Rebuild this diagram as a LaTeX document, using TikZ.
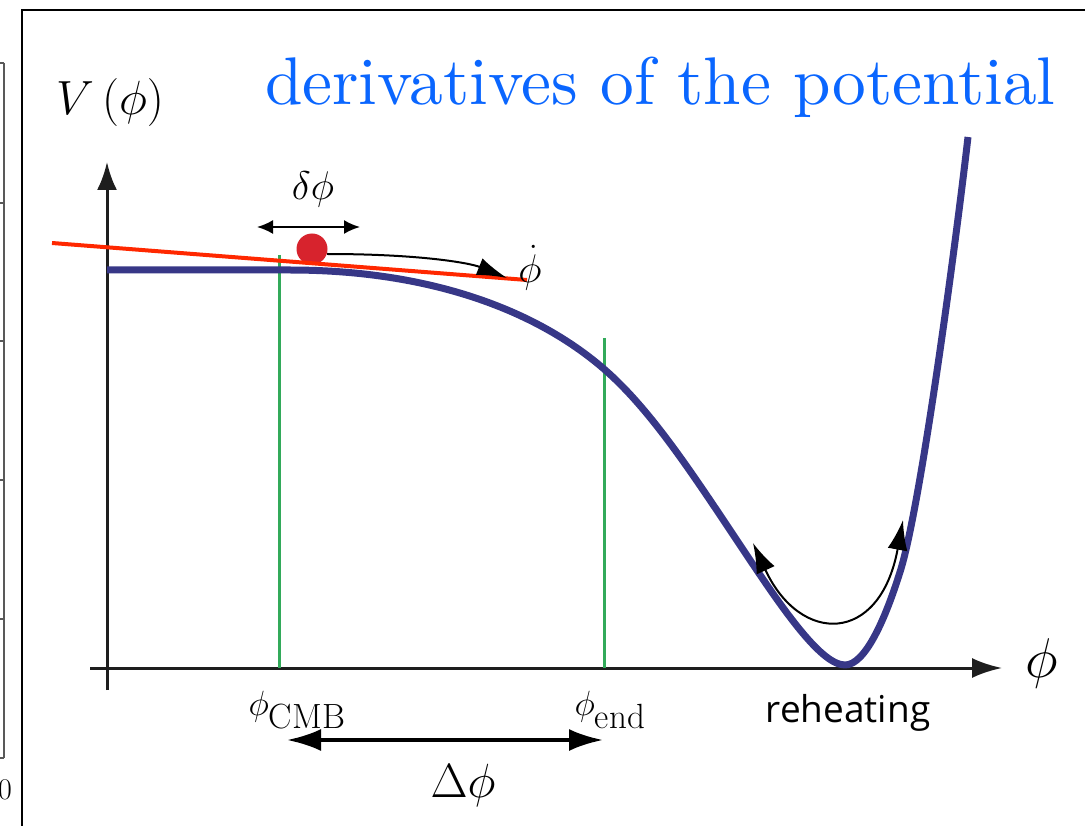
\RequirePackage{fix-cm}
\documentclass[tikz,border=0pt]{standalone}
\usepackage{fontspec}
\usepackage{graphicx}
\newfontfamily\sansf{Open Sans}
\usetikzlibrary{arrows.meta}
\definecolor{titleblue}{RGB}{10,102,255}
\definecolor{potblue}{RGB}{55,55,135}
\definecolor{lgreen}{RGB}{50,170,90}
\definecolor{redline}{RGB}{255,40,0}
\definecolor{dotred}{RGB}{215,35,45}
\definecolor{axisgray}{RGB}{30,30,30}
\begin{document}
\begin{tikzpicture}[x=1pt,y=-1pt,
  axis/.style={draw=axisgray,line width=3pt},
  potential/.style={draw=potblue,line width=7pt},
  marker/.style={draw=lgreen,line width=3pt},
  thinarrow/.style={draw=black,line width=2pt},
  lbl/.style={inner sep=0pt,text=black}]
\useasboundingbox (0,0) rectangle (1085,826);
% frame
\draw[line width=2.5pt] (22,1000) -- (22,10) -- (1200,10);
% partial neighbouring plot on the left
\draw[gray!70!black,line width=1.5pt] (4,63) -- (4,758);
\foreach \yy in {63,203,341,480,619,758} \draw[gray!70!black,line width=1.5pt] (0,\yy) -- (4,\yy);
\node[lbl,anchor=east] (zero) at (12,790) {\fontsize{30}{30}\selectfont 0};
% title
\node[lbl,text=titleblue,anchor=base west] (title) at (265,105) {\resizebox{790pt}{!}{derivatives of the potential}};
% axes
\coordinate (yb) at (107,690);
\coordinate (yt) at (107,162);
\coordinate (xl) at (90,668);
\coordinate (xr) at (1002,668);
\draw[axis,-{Latex[length=28pt,width=20pt]}] (yb) -- (yt);
\draw[axis,-{Latex[length=30pt,width=20pt]}] (xl) -- (xr);
\node[lbl] (V) at (110,103) {\fontsize{48}{48}\selectfont $V\,(\phi)$};
\node[lbl] (phiax) at (1042,663) {\fontsize{56}{56}\selectfont $\phi$};
% green markers
\coordinate (cmbT) at (279,255);
\coordinate (cmbB) at (279,668);
\coordinate (endT) at (604,338);
\coordinate (endB) at (604,668);
\draw[marker] (cmbT) -- (cmbB);
\draw[marker] (endT) -- (endB);
% potential
\coordinate (p0) at (107,270);
\coordinate (p1) at (290,270);
\coordinate (p2) at (604,369);
\coordinate (p3) at (740,545);
\coordinate (pmin) at (845,665);
\coordinate (p5) at (900,572);
\coordinate (p6) at (968,137);
\draw[potential,line join=round] (p0) -- (p1)
  .. controls (420,270) and (530,305) .. (p2)
  .. controls (650,409) and (690,470) .. (p3)
  .. controls (780,605) and (820,665) .. (pmin)
  .. controls (865,665) and (885,620) .. (p5)
  .. controls (920,510) and (955,250) .. (p6);
% ball and tangent
\node[circle,fill=dotred,minimum size=31pt,inner sep=0pt] (ball) at (312,249) {};
\coordinate (tl) at (52,243);
\coordinate (tr) at (527,280);
\draw[draw=redline,line width=4pt] (tl) -- (tr);
% delta phi
\coordinate (dl) at (257,227);
\coordinate (dr) at (360,227);
\draw[thinarrow,{Latex[length=16pt,width=14pt]}-{Latex[length=16pt,width=14pt]}] (dl) -- (dr);
\node[lbl] (dphi) at (313,190) {\fontsize{40}{40}\selectfont $\delta\phi$};
% phi dot arrow
\coordinate (pe) at (507,278);
\coordinate (ps) at (327,254);
\draw[thinarrow,-{Latex[length=30pt,width=18pt]}] (ps) .. controls (420,254) and (470,263) .. (pe);
\node[lbl] (phidot) at (530,268) {\fontsize{40}{40}\selectfont $\dot\phi$};
% labels
\node[lbl] (cmb) at (297,710) {\fontsize{35}{35}\selectfont $\phi_{\textstyle\mathrm{CMB}}$};
\node[lbl] (endl) at (610,710) {\fontsize{35}{35}\selectfont $\phi_{\textstyle\mathrm{end}}$};
\coordinate (Dl) at (287,740);
\coordinate (Dr) at (603,740);
\draw[draw=black,line width=4pt,{Latex[length=34pt,width=22pt]}-{Latex[length=34pt,width=22pt]}] (Dl) -- (Dr);
\node[lbl] (Dphi) at (463,785) {\fontsize{48}{48}\selectfont $\Delta\phi$};
% reheating
\coordinate (ra) at (753,543);
\coordinate (rb) at (903,520);
\draw[thinarrow,{Latex[length=30pt,width=20pt]}-{Latex[length=30pt,width=20pt]}] (ra) .. controls (800,645) and (880,645) .. (rb);
\node[lbl,anchor=base] (reh) at (848,722) {\sansf\fontsize{37}{37}\selectfont reheating};
\end{tikzpicture}
\end{document}
